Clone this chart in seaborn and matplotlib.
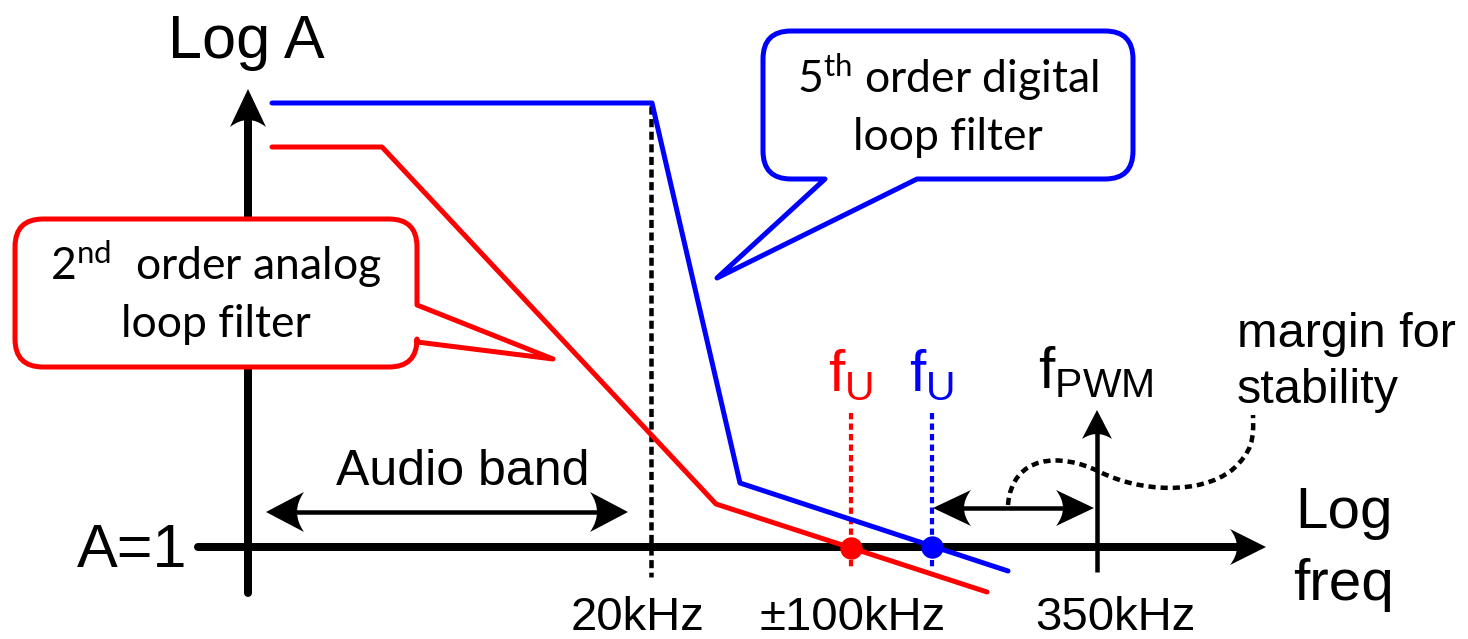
import numpy as np
import matplotlib
matplotlib.use("Agg")
import matplotlib.pyplot as plt
import seaborn as sns
from matplotlib.path import Path
from matplotlib.patches import PathPatch

# ---------------- data (schematic, pixel space of the drawing) ----------------
digital_x = [272, 652, 740, 1008]          # 5th order digital loop filter
digital_y = [103, 103, 483, 571]
analog_x = [272, 382, 716, 987]            # 2nd order analog loop filter
analog_y = [147, 147, 504, 592]
unity_x = [851, 932]                       # f_U (analog, digital)
unity_y = [548, 547]
audio_edge_x = 651                          # 20 kHz
pwm_x = 1097                                # 350 kHz
tick_labels = ["20kHz", "\u00b1100kHz", "350kHz"]
tick_label_x = [638, 853, 1115]

RED = "#ff0000"
BLUE = "#0000ff"
PX = 0.72  # points per pixel at dpi=100

sns.set_theme(style="white")
plt.rcParams["font.family"] = ["Liberation Sans", "DejaVu Sans"]
plt.rcParams["text.color"] = "black"
plt.rcParams["mathtext.fontset"] = "custom"
plt.rcParams["mathtext.rm"] = "Lato"
plt.rcParams["mathtext.sf"] = "Liberation Sans"

fig = plt.figure(figsize=(14.68, 6.39), dpi=100)
ax = fig.add_axes([0, 0, 1, 1])
ax.set_xlim(0, 1468)
ax.set_ylim(639, 0)
ax.axis("off")


def arrow_head(tip, direction, length, half_w, notch, color="black", z=5):
    d = np.array(direction, float)
    d /= np.hypot(*d)
    p = np.array([-d[1], d[0]])
    base = np.array(tip) - d * length
    left = base + p * half_w
    right = base - p * half_w
    ctrl = base + d * 2 * notch
    verts = [tip, tuple(left), tuple(ctrl), tuple(right), tip]
    codes = [Path.MOVETO, Path.LINETO, Path.CURVE3, Path.CURVE3, Path.CLOSEPOLY]
    ax.add_patch(PathPatch(Path(verts, codes), facecolor=color, edgecolor="none", zorder=z))


def arrow(start, end, lw, length, half_w, notch, both=False, capstart="round", z=5):
    s = np.array(start, float)
    e = np.array(end, float)
    d = (e - s) / np.hypot(*(e - s))
    s2 = s + d * length * 0.6 if both else s
    e2 = e - d * length * 0.6
    ax.plot([s2[0], e2[0]], [s2[1], e2[1]], color="black", lw=lw * PX,
            solid_capstyle=capstart, zorder=z)
    arrow_head(tuple(e), d, length, half_w, notch, z=z)
    if both:
        arrow_head(tuple(s), -d, length, half_w, notch, z=z)


def callout(x0, y0, x1, y1, r, tail, color):
    side, a, tip, b = tail
    V = [(x0 + r, y0), (x1 - r, y0), (x1, y0), (x1, y0 + r)]
    C = [Path.MOVETO, Path.LINETO, Path.CURVE3, Path.CURVE3]
    if side == "right":
        V += [(x1, a), tip, (x1, b)]
        C += [Path.LINETO] * 3
    V += [(x1, y1 - r), (x1, y1), (x1 - r, y1)]
    C += [Path.LINETO, Path.CURVE3, Path.CURVE3]
    if side == "bottom":
        V += [(a, y1), tip, (b, y1)]
        C += [Path.LINETO] * 3
    V += [(x0 + r, y1), (x0, y1), (x0, y1 - r), (x0, y0 + r), (x0, y0), (x0 + r, y0), (x0 + r, y0)]
    C += [Path.LINETO, Path.CURVE3, Path.CURVE3, Path.LINETO, Path.CURVE3, Path.CURVE3, Path.CLOSEPOLY]
    ax.add_patch(PathPatch(Path(V, C), facecolor="white", edgecolor=color,
                           lw=5 * PX, joinstyle="round", zorder=6))


# ---------------- axes of the diagram ----------------
arrow((198, 547), (1266, 547), 8, 36, 18, 7, z=3)      # Log freq axis
arrow((248, 593), (248, 89), 8, 38, 18, 7, z=3)        # Log A axis

# 20 kHz marker (dotted)
ax.plot([audio_edge_x, audio_edge_x], [106, 577], color="black", lw=4.5 * PX,
        ls=(0, (1.8, 1.0)), zorder=2)

# f_U dashed markers
ax.plot([unity_x[0]] * 2, [413, 570], color=RED, lw=4.2 * PX, ls=(0, (1.5, 1.0)), zorder=2)
ax.plot([unity_x[1]] * 2, [413, 570], color=BLUE, lw=4.2 * PX, ls=(0, (1.5, 1.0)), zorder=2)

# ---------------- filter curves ----------------
sns.lineplot(x=analog_x, y=analog_y, sort=False, estimator=None, color=RED,
             lw=5 * PX, ax=ax, zorder=4)
sns.lineplot(x=digital_x, y=digital_y, sort=False, estimator=None, color=BLUE,
             lw=5 * PX, ax=ax, zorder=4)
sns.scatterplot(x=[unity_x[0]], y=[unity_y[0]], color=RED, s=260, linewidth=0, ax=ax, zorder=7)
sns.scatterplot(x=[unity_x[1]], y=[unity_y[1]], color=BLUE, s=260, linewidth=0, ax=ax, zorder=7)

# ---------------- arrows ----------------
arrow((266, 512), (628, 512), 4.5, 38, 20, 7, both=True)     # audio band
arrow((933, 508), (1094, 508), 4.5, 38, 18, 7, both=True)    # margin
arrow((pwm_x, 572), (pwm_x, 410), 4.5, 29, 15, 5, capstart="butt")  # f_PWM

# dotted "margin for stability" leader
V = [(1008, 505), (1012, 455), (1060, 452), (1100, 472),
     (1140, 492), (1200, 495), (1232, 470),
     (1252, 452), (1254, 440), (1253, 415)]
C = [Path.MOVETO, Path.CURVE4, Path.CURVE4, Path.CURVE4,
     Path.CURVE4, Path.CURVE4, Path.CURVE4,
     Path.CURVE4, Path.CURVE4, Path.CURVE4]
ax.add_patch(PathPatch(Path(V, C), facecolor="none", edgecolor="black",
                       lw=4.5 * PX, ls=(0, (1.6, 1.1)), zorder=5))

# ---------------- callouts ----------------
callout(763, 31, 1133, 179, 28, ("bottom", 917, (717, 278), 825), BLUE)
callout(15, 219, 417, 367, 28, ("right", 305, (553, 359), 342), RED)

cfont = dict(family="Lato", fontsize=32, color="black", ha="center", va="baseline", zorder=8)
ax.text(948, 93, "5$^{\\mathrm{th}}$ order digital", **cfont)
ax.text(948, 150, "loop filter", **cfont)
ax.text(216, 280, "2$^{\\mathrm{nd}}$  order analog", **cfont)
ax.text(216, 337, "loop filter", **cfont)

# ---------------- labels ----------------
ax.text(168, 58, "Log A", fontsize=44, ha="left", va="baseline")
ax.text(187, 567, "A=1", fontsize=44, ha="right", va="baseline")
ax.text(1344, 528, "Log", fontsize=42, ha="center", va="baseline")
ax.text(1344, 600, "freq", fontsize=42, ha="center", va="baseline")
ax.text(463, 485, "Audio band", fontsize=36, ha="center", va="baseline")
for lab, x in zip(tick_labels, tick_label_x):
    ax.text(x, 630, lab, fontsize=34, ha="center", va="baseline")

ax.text(unity_x[0], 390, "f$_{\\mathsf{U}}$", fontsize=42, color=RED, ha="center", va="baseline")
ax.text(unity_x[1], 390, "f$_{\\mathsf{U}}$", fontsize=42, color=BLUE, ha="center", va="baseline")
ax.text(1038, 388, "f$_{\\mathsf{PWM}}$", fontsize=42, ha="left", va="baseline")
ax.text(1237, 347, "margin for", fontsize=35, ha="left", va="baseline")
ax.text(1237, 403, "stability", fontsize=35, ha="left", va="baseline")

fig.savefig("out.png", dpi=100, facecolor="white")
